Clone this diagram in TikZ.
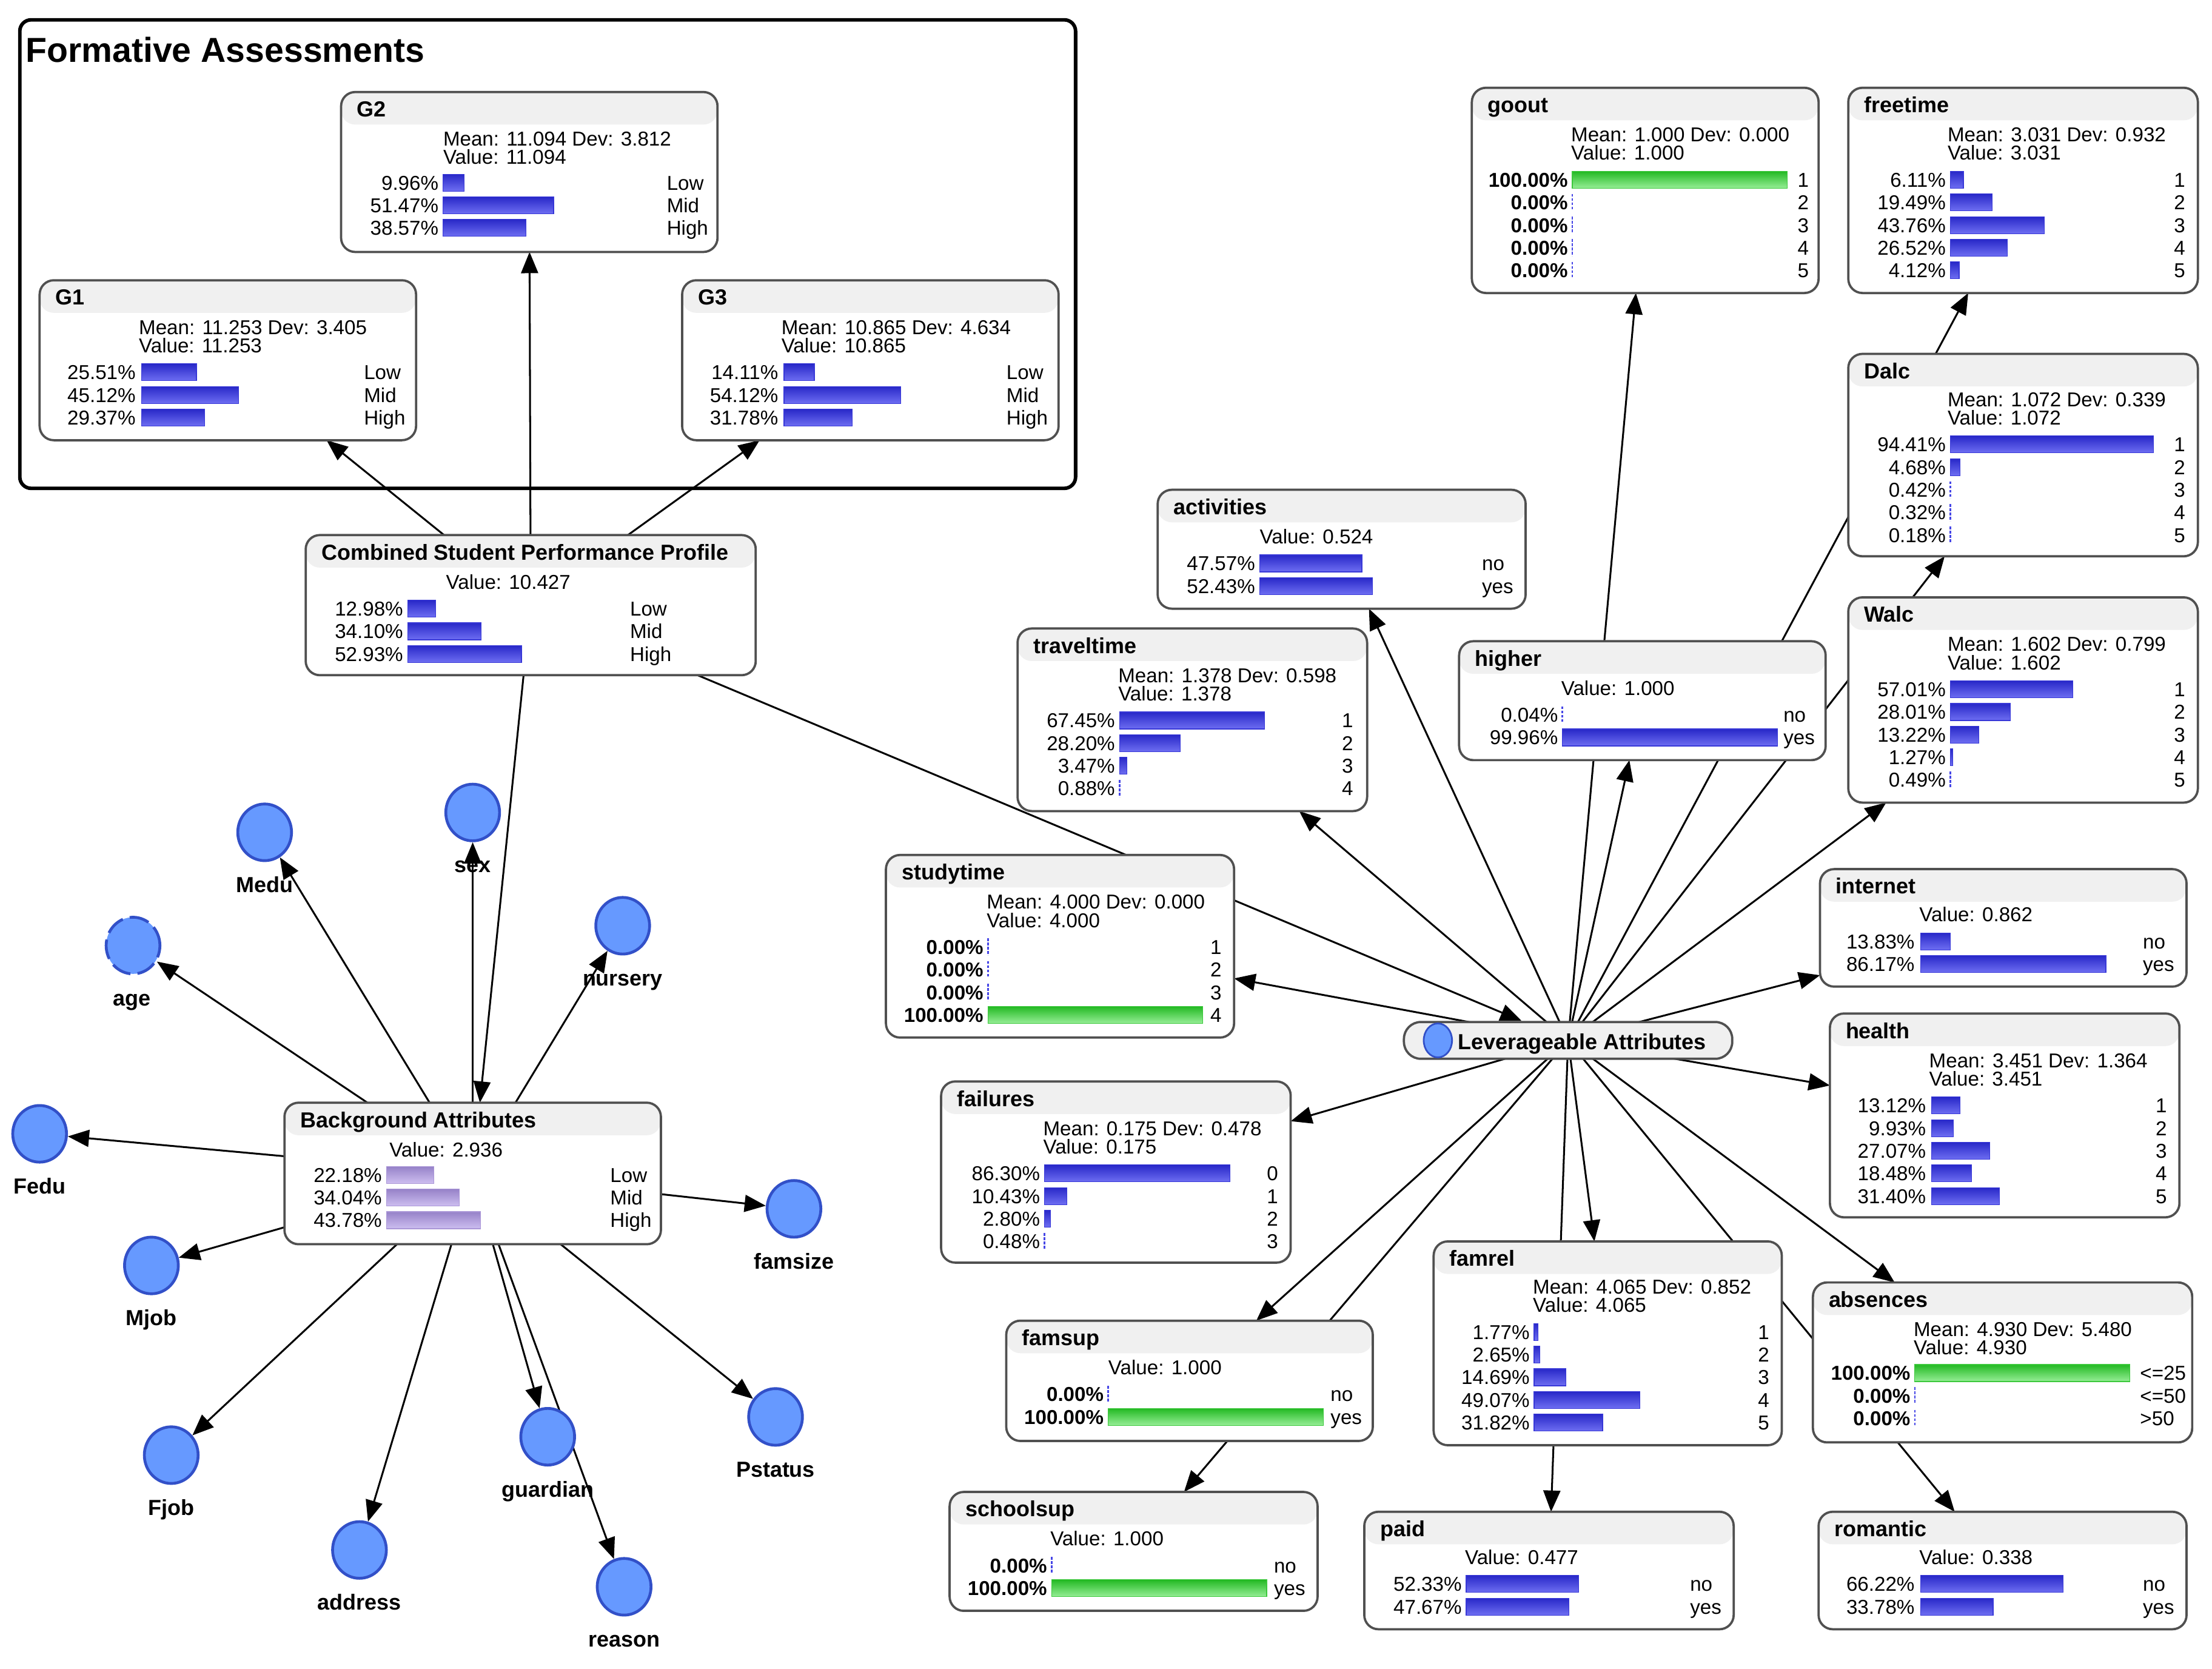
\documentclass[tikz,border=0pt]{standalone}
\usepackage{fontspec}
\setmainfont{Liberation Sans}
\usetikzlibrary{arrows.meta,shapes.geometric}
\pgfdeclarelayer{behind}
\pgfsetlayers{behind,main}

\definecolor{boxgray}{RGB}{80,80,80}
\definecolor{hdrgray}{RGB}{240,240,240}
\definecolor{circfill}{RGB}{102,153,255}
\definecolor{circdraw}{RGB}{50,80,200}
\definecolor{bluetop}{RGB}{40,40,200}
\definecolor{bluebot}{RGB}{110,110,242}
\definecolor{blueedge}{RGB}{55,55,215}
\definecolor{greentop}{RGB}{35,185,35}
\definecolor{greenbot}{RGB}{150,238,150}
\definecolor{greenedge}{RGB}{60,200,60}
\definecolor{purptop}{RGB}{150,130,200}
\definecolor{purpbot}{RGB}{205,190,240}
\definecolor{purpedge}{RGB}{170,150,215}
\definecolor{zeroblue}{RGB}{70,70,230}

\newcommand\bodyf{\fontsize{14.2pt}{16pt}\selectfont}
\newcommand\ttlf{\fontsize{15.4pt}{18pt}\selectfont\bfseries}
\newcommand\bigf{\fontsize{24.5pt}{28pt}\selectfont\bfseries}

\tikzset{
  gbox/.style={draw=boxgray, line width=1.6pt, rounded corners=10pt, fill=white,
    inner sep=0pt, outer sep=0pt,
    path picture={\fill[hdrgray] (path picture bounding box.north west) rectangle ([yshift=-23pt]path picture bounding box.north east);}},
  ttltxt/.style={anchor=west, inner sep=0pt, font=\ttlf, text height=11pt, text depth=0pt},
  bodytxt/.style={anchor=west, inner sep=0pt, font=\bodyf, text height=10.2pt, text depth=0pt},
  pcttxt/.style={anchor=east, inner sep=0pt, font=\bodyf, text height=10.2pt, text depth=0pt},
  statetxt/.style={anchor=west, inner sep=0pt, font=\bodyf, text height=10.2pt, text depth=0pt},
  clabel/.style={inner sep=0pt, font=\ttlf, text height=11pt, text depth=0pt},
  bigtxt/.style={anchor=west, inner sep=0pt, font=\bigf, text height=17.5pt, text depth=0pt},
  bluebar/.style={top color=bluetop, bottom color=bluebot, draw=blueedge, line width=0.5pt},
  greenbar/.style={top color=greentop, bottom color=greenbot, draw=greenedge, line width=0.5pt},
  purplebar/.style={top color=purptop, bottom color=purpbot, draw=purpedge, line width=0.5pt},
  zerobar/.style={draw=zeroblue, line width=1.2pt, dash pattern=on 2pt off 1pt},
  circ/.style={ellipse, minimum width=38pt, minimum height=40pt, inner sep=0pt,
    fill=circfill, draw=circdraw, line width=2pt},
  pill/.style={draw=boxgray, line width=1.6pt, fill=hdrgray, rounded corners=12pt,
    minimum width=232pt, minimum height=26pt, inner sep=0pt},
  link/.style={draw=black, line width=1.3pt, -{Triangle[length=15pt,width=12pt]}},
}

\newcount\tn
\newcommand\txt[3]{\global\advance\tn by 1 \node[bodytxt] (t\the\tn) at (#1,#2) {#3};}
\newcommand\setcols[3]{\def\px{#1}\def\bx{#2}\def\sx{#3}}
\newcommand\prow[5]{%
  \global\advance\tn by 1 \node[pcttxt] (t\the\tn) at (\px,#2) {#3};
  \ifdim #4pt<1.5pt \draw[zerobar] (\bx,#2-6) -- (\bx,#2+6);
  \else \path[#1] (\bx,#2-6) rectangle ++(#4,12); \fi
  \global\advance\tn by 1 \node[statetxt] (t\the\tn) at (\sx,#2) {#5};}
\newcommand\gbn[6]{%
  \node[gbox, minimum width={(#4-#2)*1pt}, minimum height={(#5-#3)*1pt}] (#1) at ({(#2+#4)/2},{(#3+#5)/2}) {};
  \node[ttltxt] (#1-t) at (#2+11,#3+12) {#6};}
\newcommand\cnode[4]{% name x y label
  \node[circ] (#1) at (#2,#3) {};
  \node[clabel] (#1-l) at (#2,#3+37) {#4};}

\begin{document}
\begin{tikzpicture}[x=1pt,y=-1pt]
\useasboundingbox (0,0) rectangle (1563,1179);

% ---------- Formative Assessments ----------
\node[draw=black, line width=2.5pt, rounded corners=8pt, minimum width=746pt, minimum height=331pt, inner sep=0pt] (form) at (387,179.5) {};
\node[bigtxt] (form-t) at (18,35) {Formative Assessments};

\gbn{g2}{241}{65}{507}{178}{G2}
\txt{313}{98}{Mean: 11.094 Dev: 3.812}
\txt{313}{111}{Value: 11.094}
\setcols{310}{313}{471}
\prow{bluebar}{129}{9.96\%}{15.1}{Low}
\prow{bluebar}{145}{51.47\%}{78.2}{Mid}
\prow{bluebar}{161}{38.57\%}{58.6}{High}

\gbn{g1}{28}{198}{294}{311}{G1}
\txt{98}{231}{Mean: 11.253 Dev: 3.405}
\txt{98}{244}{Value: 11.253}
\setcols{96}{100}{257}
\prow{bluebar}{263}{25.51\%}{38.8}{Low}
\prow{bluebar}{279}{45.12\%}{68.6}{Mid}
\prow{bluebar}{295}{29.37\%}{44.6}{High}

\gbn{g3}{482}{198}{748}{311}{G3}
\txt{552}{231}{Mean: 10.865 Dev: 4.634}
\txt{552}{244}{Value: 10.865}
\setcols{550}{554}{711}
\prow{bluebar}{263}{14.11\%}{21.4}{Low}
\prow{bluebar}{279}{54.12\%}{82.3}{Mid}
\prow{bluebar}{295}{31.78\%}{48.3}{High}

% ---------- Combined ----------
\gbn{comb}{216}{378}{534}{477}{Combined Student Performance Profile}
\txt{315}{411}{Value: 10.427}
\setcols{285}{288}{445}
\prow{bluebar}{430}{12.98\%}{19.7}{Low}
\prow{bluebar}{446}{34.10\%}{51.8}{Mid}
\prow{bluebar}{462}{52.93\%}{80.5}{High}

% ---------- Background ----------
\gbn{back}{201}{779}{467}{879}{Background Attributes}
\txt{275}{812}{Value: 2.936}
\setcols{270}{273}{431}
\prow{purplebar}{830}{22.18\%}{33.7}{Low}
\prow{purplebar}{846}{34.04\%}{51.7}{Mid}
\prow{purplebar}{862}{43.78\%}{66.5}{High}

\cnode{medu}{187}{588}{Medu}
\cnode{sex}{334}{574}{sex}
\cnode{nursery}{440}{654}{nursery}
\node[circ, dash pattern=on 14pt off 5pt] (age) at (94,668) {};
\node[clabel] (age-l) at (93,705) {age};
\cnode{fedu}{28}{801}{Fedu}
\cnode{famsize}{561}{854}{famsize}
\cnode{mjob}{107}{894}{Mjob}
\cnode{fjob}{121}{1028}{Fjob}
\cnode{pstatus}{548}{1001}{Pstatus}
\cnode{guardian}{387}{1015}{guardian}
\cnode{address}{254}{1095}{address}
\cnode{reason}{441}{1121}{reason}

% ---------- Right part ----------
\gbn{goout}{1040}{62}{1285}{207}{goout}
\txt{1110}{95}{Mean: 1.000 Dev: 0.000}
\txt{1110}{108}{Value: 1.000}
\setcols{1108}{1111}{1270}
\prow{greenbar}{127}{\textbf{100.00\%}}{152}{1}
\prow{bluebar}{143}{\textbf{0.00\%}}{0}{2}
\prow{bluebar}{159}{\textbf{0.00\%}}{0}{3}
\prow{bluebar}{175}{\textbf{0.00\%}}{0}{4}
\prow{bluebar}{191}{\textbf{0.00\%}}{0}{5}

\gbn{freetime}{1306}{62}{1553}{207}{freetime}
\txt{1376}{95}{Mean: 3.031 Dev: 0.932}
\txt{1376}{108}{Value: 3.031}
\setcols{1375}{1378}{1536}
\prow{bluebar}{127}{6.11\%}{9.3}{1}
\prow{bluebar}{143}{19.49\%}{29.6}{2}
\prow{bluebar}{159}{43.76\%}{66.5}{3}
\prow{bluebar}{175}{26.52\%}{40.3}{4}
\prow{bluebar}{191}{4.12\%}{6.3}{5}

\gbn{dalc}{1306}{250}{1553}{393}{Dalc}
\txt{1376}{282}{Mean: 1.072 Dev: 0.339}
\txt{1376}{295}{Value: 1.072}
\setcols{1375}{1378}{1536}
\prow{bluebar}{314}{94.41\%}{143.5}{1}
\prow{bluebar}{330}{4.68\%}{7.1}{2}
\prow{bluebar}{346}{0.42\%}{0.6}{3}
\prow{bluebar}{362}{0.32\%}{0.5}{4}
\prow{bluebar}{378}{0.18\%}{0.3}{5}

\gbn{walc}{1306}{422}{1553}{567}{Walc}
\txt{1376}{455}{Mean: 1.602 Dev: 0.799}
\txt{1376}{468}{Value: 1.602}
\setcols{1375}{1378}{1536}
\prow{bluebar}{487}{57.01\%}{86.7}{1}
\prow{bluebar}{503}{28.01\%}{42.6}{2}
\prow{bluebar}{519}{13.22\%}{20.1}{3}
\prow{bluebar}{535}{1.27\%}{1.9}{4}
\prow{bluebar}{551}{0.49\%}{0.7}{5}

\gbn{activ}{818}{346}{1078}{430}{activities}
\txt{890}{379}{Value: 0.524}
\setcols{887}{890}{1047}
\prow{bluebar}{398}{47.57\%}{72.3}{no}
\prow{bluebar}{414}{52.43\%}{79.7}{yes}

\gbn{trav}{719}{444}{966}{573}{traveltime}
\txt{790}{477}{Mean: 1.378 Dev: 0.598}
\txt{790}{490}{Value: 1.378}
\setcols{788}{791}{948}
\prow{bluebar}{509}{67.45\%}{102.5}{1}
\prow{bluebar}{525}{28.20\%}{42.9}{2}
\prow{bluebar}{541}{3.47\%}{5.3}{3}
\prow{bluebar}{557}{0.88\%}{1.3}{4}

\gbn{higher}{1031}{453}{1290}{537}{higher}
\txt{1103}{486}{Value: 1.000}
\setcols{1101}{1104}{1260}
\prow{bluebar}{505}{0.04\%}{0}{no}
\prow{bluebar}{521}{99.96\%}{151.9}{yes}

\gbn{study}{626}{604}{872}{733}{studytime}
\txt{697}{637}{Mean: 4.000 Dev: 0.000}
\txt{697}{650}{Value: 4.000}
\setcols{695}{698}{855}
\prow{bluebar}{669}{\textbf{0.00\%}}{0}{1}
\prow{bluebar}{685}{\textbf{0.00\%}}{0}{2}
\prow{bluebar}{701}{\textbf{0.00\%}}{0}{3}
\prow{greenbar}{717}{\textbf{100.00\%}}{152}{4}

\gbn{internet}{1286}{614}{1545}{697}{internet}
\txt{1356}{646}{Value: 0.862}
\setcols{1353}{1357}{1514}
\prow{bluebar}{665}{13.83\%}{21}{no}
\prow{bluebar}{681}{86.17\%}{131}{yes}

\gbn{health}{1293}{716}{1540}{860}{health}
\txt{1363}{749}{Mean: 3.451 Dev: 1.364}
\txt{1363}{762}{Value: 3.451}
\setcols{1361}{1365}{1523}
\prow{bluebar}{781}{13.12\%}{19.9}{1}
\prow{bluebar}{797}{9.93\%}{15.1}{2}
\prow{bluebar}{813}{27.07\%}{41.1}{3}
\prow{bluebar}{829}{18.48\%}{28.1}{4}
\prow{bluebar}{845}{31.40\%}{47.7}{5}

\gbn{failures}{665}{764}{912}{892}{failures}
\txt{737}{797}{Mean: 0.175 Dev: 0.478}
\txt{737}{810}{Value: 0.175}
\setcols{735}{738}{895}
\prow{bluebar}{829}{86.30\%}{131.2}{0}
\prow{bluebar}{845}{10.43\%}{15.9}{1}
\prow{bluebar}{861}{2.80\%}{4.3}{2}
\prow{bluebar}{877}{0.48\%}{0.7}{3}

\gbn{famrel}{1013}{877}{1259}{1021}{famrel}
\txt{1083}{909}{Mean: 4.065 Dev: 0.852}
\txt{1083}{922}{Value: 4.065}
\setcols{1081}{1084}{1242}
\prow{bluebar}{941}{1.77\%}{2.7}{1}
\prow{bluebar}{957}{2.65\%}{4.0}{2}
\prow{bluebar}{973}{14.69\%}{22.3}{3}
\prow{bluebar}{989}{49.07\%}{74.6}{4}
\prow{bluebar}{1005}{31.82\%}{48.4}{5}

\gbn{absences}{1281}{906}{1549}{1019}{absences}
\txt{1352}{939}{Mean: 4.930 Dev: 5.480}
\txt{1352}{952}{Value: 4.930}
\setcols{1350}{1353}{1512}
\prow{greenbar}{970}{\textbf{100.00\%}}{152}{<=25}
\prow{bluebar}{986}{\textbf{0.00\%}}{0}{<=50}
\prow{bluebar}{1002}{\textbf{0.00\%}}{0}{>50}

\gbn{famsup}{711}{933}{970}{1018}{famsup}
\txt{783}{966}{Value: 1.000}
\setcols{780}{783}{940}
\prow{bluebar}{985}{\textbf{0.00\%}}{0}{no}
\prow{greenbar}{1001}{\textbf{100.00\%}}{152}{yes}

\gbn{schoolsup}{671}{1054}{931}{1138}{schoolsup}
\txt{742}{1087}{Value: 1.000}
\setcols{740}{743}{900}
\prow{bluebar}{1106}{\textbf{0.00\%}}{0}{no}
\prow{greenbar}{1122}{\textbf{100.00\%}}{152}{yes}

\gbn{paid}{964}{1068}{1225}{1151}{paid}
\txt{1035}{1100}{Value: 0.477}
\setcols{1033}{1036}{1194}
\prow{bluebar}{1119}{52.33\%}{79.5}{no}
\prow{bluebar}{1135}{47.67\%}{72.5}{yes}

\gbn{romantic}{1285}{1068}{1545}{1151}{romantic}
\txt{1356}{1100}{Value: 0.338}
\setcols{1353}{1357}{1514}
\prow{bluebar}{1119}{66.22\%}{100.7}{no}
\prow{bluebar}{1135}{33.78\%}{51.3}{yes}

% ---------- Hub ----------
\node[pill] (hub) at (1108,735) {};
\node[circ, minimum width=20pt, minimum height=24pt, line width=1.2pt] (hub-c) at (1016,735) {};
\node[ttltxt] (hub-t) at (1030,736) {Leverageable Attributes};

% ---------- Connectors ----------
\begin{pgfonlayer}{behind}
\fill[white] (0,0) rectangle (1563,1179);
\draw[link] (comb) -- (g1);
\draw[link] (comb) -- (g2);
\draw[link] (comb) -- (g3);
\draw[link] (comb) -- (back);
\draw[link] (comb) -- (hub);
\foreach \c in {age,medu,sex,nursery,fedu,famsize,mjob,fjob,address,guardian,reason,pstatus}
  \draw[link] (back) -- (\c);
\foreach \c in {trav,activ,goout,higher,freetime,dalc,walc,internet,health,absences,romantic,famrel,paid,failures,famsup,schoolsup,study}
  \draw[link] (hub.center) -- (\c);
\end{pgfonlayer}
\end{tikzpicture}
\end{document}
